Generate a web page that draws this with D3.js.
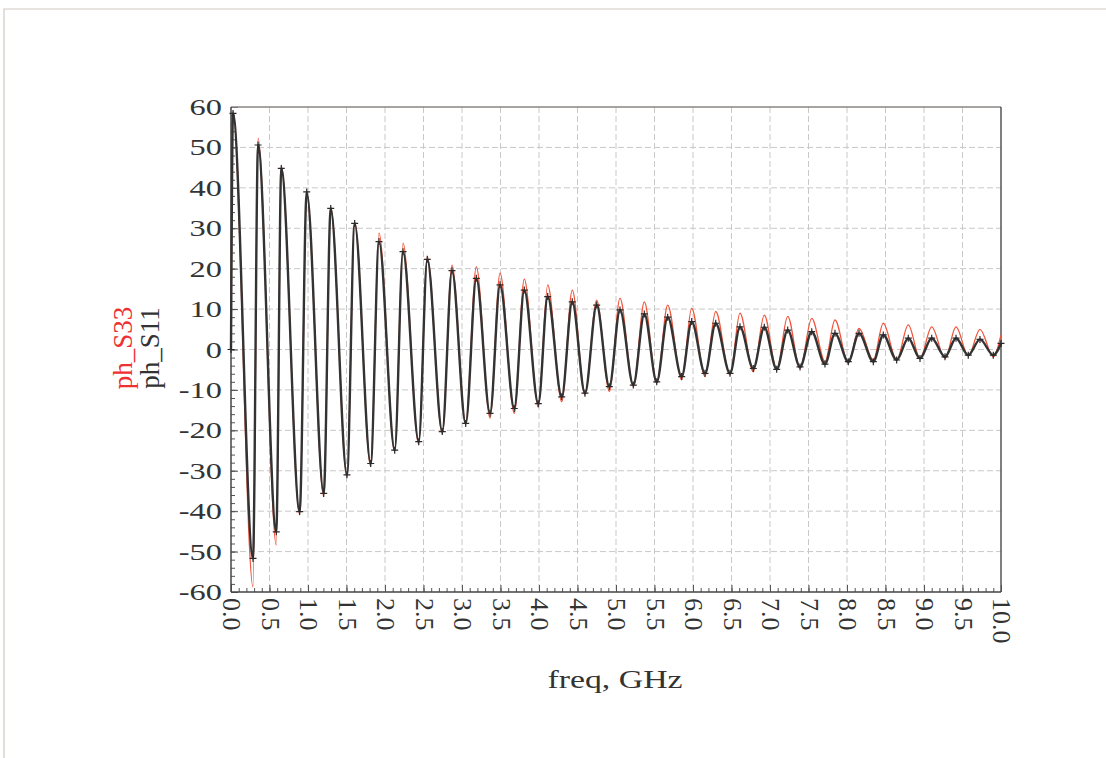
<!DOCTYPE html>
<html>
<head>
<meta charset="utf-8">
<script src="https://cdn.jsdelivr.net/npm/d3@7/dist/d3.min.js"></script>
<style>
  body { margin: 0; background: #ffffff; }
  svg { display: block; }
  text { font-family: "Liberation Serif", "Times New Roman", serif; }
</style>
</head>
<body>
<svg id="chart" width="1106" height="758"></svg>
<script>
// Frequency points (GHz) where the phase curves turn: start, alternating peaks/troughs, end
const freqGHz = [0, 0.026, 0.286, 0.351, 0.588, 0.653, 0.892, 0.983, 1.204, 1.295, 1.506,
  1.606, 1.814, 1.922, 2.126, 2.234, 2.438, 2.549, 2.744, 2.870, 3.048, 3.186, 3.364,
  3.494, 3.679, 3.809, 3.991, 4.113, 4.295, 4.432, 4.597, 4.749, 4.913, 5.052, 5.225,
  5.368, 5.529, 5.671, 5.853, 5.983, 6.156, 6.295, 6.481, 6.610, 6.783, 6.926, 7.087,
  7.230, 7.390, 7.542, 7.714, 7.844, 8.017, 8.156, 8.342, 8.471, 8.645, 8.796, 8.948,
  9.100, 9.273, 9.416, 9.575, 9.727, 9.900, 10.0];

// Phase of S11 (deg)
const phS11 = [0, 58.4, -51.7, 50.6, -45.1, 44.8, -40.1, 39.0, -35.6, 34.9, -31.0,
  31.2, -28.2, 26.7, -24.9, 24.2, -22.8, 22.3, -20.3, 19.5, -18.3, 17.6, -15.8,
  16.0, -14.6, 14.7, -13.4, 13.1, -11.7, 11.8, -10.8, 11.0, -9.2, 9.8, -8.8,
  8.8, -8.0, 8.0, -6.7, 6.9, -5.9, 6.5, -5.9, 5.6, -4.7, 5.5, -4.9,
  4.8, -4.3, 4.4, -3.6, 4.0, -3.0, 4.0, -3.0, 3.6, -2.6, 2.8, -2.2,
  2.8, -1.8, 2.8, -1.4, 2.5, -1.4, 1.5];

// Phase of S33 (deg)
const phS33 = [0, 59.0, -58.7, 52.3, -48.4, 45.4, -40.9, 38.8, -36.4, 35.3, -31.5,
  31.5, -29.0, 28.8, -25.3, 26.3, -23.5, 23.0, -20.8, 20.9, -18.5, 20.5, -17.0,
  18.9, -15.8, 17.4, -14.2, 16.0, -12.9, 14.7, -11.2, 12.2, -10.4, 12.7, -9.2,
  11.8, -8.4, 11.0, -7.5, 10.2, -6.7, 9.4, -6.3, 9.0, -5.5, 8.5, -5.0,
  8.2, -4.7, 7.7, -3.0, 7.3, -3.4, 5.2, -2.6, 6.5, -2.6, 6.1, -2.2,
  5.6, -2.2, 5.6, -1.6, 5.0, -1.8, 3.6];

// Axis ticks
const xTickValues = [0, 0.5, 1, 1.5, 2, 2.5, 3, 3.5, 4, 4.5, 5, 5.5, 6, 6.5, 7, 7.5, 8, 8.5, 9, 9.5, 10];
const xTickLabels = ["0.0", "0.5", "1.0", "1.5", "2.0", "2.5", "3.0", "3.5", "4.0", "4.5", "5.0",
  "5.5", "6.0", "6.5", "7.0", "7.5", "8.0", "8.5", "9.0", "9.5", "10.0"];
const yTickValues = [-60, -50, -40, -30, -20, -10, 0, 10, 20, 30, 40, 50, 60];
const yTickLabels = ["-60", "-50", "-40", "-30", "-20", "-10", "0", "10", "20", "30", "40", "50", "60"];

const svg = d3.select("#chart");
const plotLeft = 231, plotRight = 1001, plotTop = 107, plotBottom = 592;

const x = d3.scaleLinear().domain([0, 10]).range([plotLeft, plotRight]);
const y = d3.scaleLinear().domain([-60, 60]).range([plotBottom, plotTop]);

// Page frame
svg.append("path")
  .attr("d", `M4,758 L4,9 L1106,9`)
  .attr("fill", "none").attr("stroke", "#cfc8c0").attr("stroke-width", 1.2);

// Dashed grid
const grid = svg.append("g");
grid.selectAll(".gx").data(xTickValues.slice(1, -1)).join("line")
  .attr("x1", d => x(d)).attr("x2", d => x(d)).attr("y1", plotTop).attr("y2", plotBottom)
  .attr("stroke", "#c8c8c8").attr("stroke-width", 1).attr("stroke-dasharray", "6,3");
grid.selectAll(".gy").data(yTickValues.slice(1, -1)).join("line")
  .attr("x1", plotLeft).attr("x2", plotRight).attr("y1", d => y(d)).attr("y2", d => y(d))
  .attr("stroke", "#c8c8c8").attr("stroke-width", 1).attr("stroke-dasharray", "6,3");

// Minor/major inside ticks
const xMinor = d3.range(0, 101).map(i => i / 10);
const yMinor = d3.range(-30, 31).map(i => i * 2);
const tickStyle = g => g.call(s => s.select(".domain").remove())
  .call(s => s.selectAll("line").attr("stroke", "#555"));
svg.append("g").attr("transform", `translate(0,${plotBottom})`)
  .call(d3.axisBottom(x).tickValues(xMinor).tickSize(-4).tickFormat("")).call(tickStyle);
svg.append("g").attr("transform", `translate(0,${plotBottom})`)
  .call(d3.axisBottom(x).tickValues(xTickValues).tickSize(-7).tickFormat("")).call(tickStyle);
svg.append("g").attr("transform", `translate(${plotLeft},0)`)
  .call(d3.axisLeft(y).tickValues(yMinor).tickSize(-4).tickFormat("")).call(tickStyle);
svg.append("g").attr("transform", `translate(${plotLeft},0)`)
  .call(d3.axisLeft(y).tickValues(yTickValues).tickSize(-7).tickFormat("")).call(tickStyle);

// Plot frame
svg.append("line").attr("x1", plotLeft).attr("x2", plotRight).attr("y1", plotTop).attr("y2", plotTop)
  .attr("stroke", "#8a8580").attr("stroke-width", 1.5);
svg.append("line").attr("x1", plotRight).attr("x2", plotRight).attr("y1", plotTop).attr("y2", plotBottom)
  .attr("stroke", "#555").attr("stroke-width", 1.5);
svg.append("line").attr("x1", plotLeft).attr("x2", plotLeft).attr("y1", plotTop).attr("y2", plotBottom)
  .attr("stroke", "#444").attr("stroke-width", 1.5);
svg.append("line").attr("x1", plotLeft).attr("x2", plotRight).attr("y1", plotBottom).attr("y2", plotBottom)
  .attr("stroke", "#444").attr("stroke-width", 1.5);

// Y tick labels
svg.append("g").selectAll("text").data(yTickValues).join("text")
  .attr("transform", d => `translate(${plotLeft - 9},${y(d) + 8}) scale(1.35,1)`)
  .attr("text-anchor", "end")
  .attr("font-size", 24).attr("fill", "#333")
  .text((d, i) => yTickLabels[i]);

// X tick labels, rotated
svg.append("g").selectAll("text").data(xTickValues).join("text")
  .attr("transform", d => `translate(${x(d) - 8},${plotBottom + 6}) rotate(90)`)
  .attr("text-anchor", "start")
  .attr("font-size", 26).attr("fill", "#333")
  .text((d, i) => xTickLabels[i]);

// Axis titles
svg.append("text")
  .attr("transform", `translate(615,688) scale(1.3,1)`)
  .attr("text-anchor", "middle").attr("font-size", 26).attr("fill", "#333")
  .text("freq, GHz");
svg.append("text")
  .attr("transform", `translate(132,348) rotate(-90)`)
  .attr("text-anchor", "middle").attr("font-size", 27).attr("fill", "#ee3030")
  .text("ph_S33");
svg.append("text")
  .attr("transform", `translate(159,348) rotate(-90)`)
  .attr("text-anchor", "middle").attr("font-size", 27).attr("fill", "#333")
  .text("ph_S11");

// Curves
const s33 = freqGHz.map((f, i) => [f, phS33[i]]);
const s11 = freqGHz.map((f, i) => [f, phS11[i]]);
const line = d3.line().x(d => x(d[0])).y(d => y(d[1])).curve(d3.curveMonotoneX);

const plot = svg.append("g");
plot.append("path").datum(s33).attr("d", line)
  .attr("fill", "none").attr("stroke", "#f0553c").attr("stroke-width", 1.3);
plot.append("path").datum(s11).attr("d", line)
  .attr("fill", "none").attr("stroke", "#333").attr("stroke-width", 2.4);

// S11 markers
plot.selectAll(".m").data(s11).join("path")
  .attr("d", d => `M${x(d[0]) - 3.5},${y(d[1])}h7M${x(d[0])},${y(d[1]) - 3.5}v7`)
  .attr("stroke", "#2a2a2a").attr("stroke-width", 1.2);
</script>
</body>
</html>
